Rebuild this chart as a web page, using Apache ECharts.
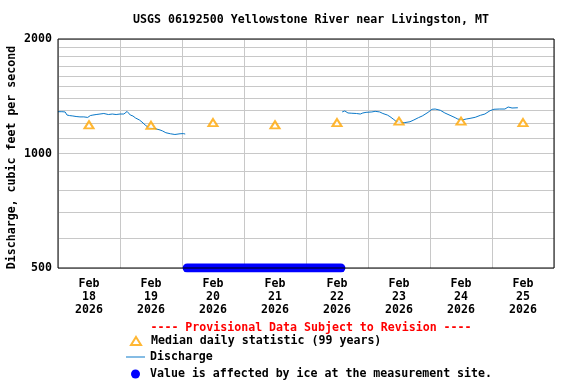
<!DOCTYPE html>
<html><head><meta charset="utf-8">
<script src="https://cdn.jsdelivr.net/npm/echarts@6/dist/echarts.min.js"></script>
<style>html,body{margin:0;padding:0;background:#fff}#c{width:576px;height:384px}</style>
</head><body><div id="c"></div>
<script>
// ---- data ----
const flowTimes1 = ['2026-02-18 00:00','2026-02-18 01:30','2026-02-18 02:45','2026-02-18 03:30','2026-02-18 04:30','2026-02-18 05:45','2026-02-18 07:00','2026-02-18 08:30','2026-02-18 10:00','2026-02-18 11:30','2026-02-18 12:30','2026-02-18 13:30','2026-02-18 14:45','2026-02-18 16:15','2026-02-18 17:45','2026-02-18 19:30','2026-02-18 21:00','2026-02-18 22:30','2026-02-19 00:00','2026-02-19 01:30','2026-02-19 02:45','2026-02-19 04:00','2026-02-19 05:00','2026-02-19 06:00','2026-02-19 07:30','2026-02-19 08:30','2026-02-19 09:45','2026-02-19 10:45','2026-02-19 12:00','2026-02-19 13:30','2026-02-19 15:30','2026-02-19 16:30','2026-02-19 17:45','2026-02-19 19:30','2026-02-19 21:15','2026-02-19 23:15','2026-02-20 00:30','2026-02-20 01:15'];
const flowValues1 = [1288,1288,1286,1262,1258,1255,1251,1248,1248,1244,1258,1262,1266,1270,1274,1266,1270,1266,1270,1270,1290,1262,1255,1240,1225,1210,1188,1174,1167,1163,1153,1146,1134,1127,1122,1127,1128,1125];
const flowTimes2 = ['2026-02-22 14:00','2026-02-22 15:00','2026-02-22 16:15','2026-02-22 17:45','2026-02-22 19:30','2026-02-22 21:00','2026-02-22 22:00','2026-02-22 23:15','2026-02-23 01:30','2026-02-23 02:45','2026-02-23 04:30','2026-02-23 05:45','2026-02-23 07:30','2026-02-23 08:30','2026-02-23 09:45','2026-02-23 10:45','2026-02-23 12:30','2026-02-23 14:00','2026-02-23 16:15','2026-02-23 17:45','2026-02-23 19:30','2026-02-23 21:00','2026-02-23 23:15','2026-02-24 00:45','2026-02-24 02:00','2026-02-24 04:00','2026-02-24 05:45','2026-02-24 07:45','2026-02-24 09:45','2026-02-24 10:45','2026-02-24 12:30','2026-02-24 14:00','2026-02-24 15:30','2026-02-24 17:30','2026-02-24 19:30','2026-02-24 21:15','2026-02-24 23:15','2026-02-25 00:45','2026-02-25 03:00','2026-02-25 05:00','2026-02-25 06:15','2026-02-25 07:45','2026-02-25 10:00'];
const flowValues2 = [1286,1294,1278,1276,1274,1270,1278,1283,1286,1291,1286,1274,1262,1250,1232,1217,1206,1205,1212,1225,1242,1255,1283,1307,1309,1299,1278,1260,1242,1232,1225,1232,1237,1245,1260,1270,1296,1307,1309,1309,1325,1317,1319];
const medianTimes = ['2026-02-18 12:00','2026-02-19 12:00','2026-02-20 12:00','2026-02-21 12:00','2026-02-22 12:00','2026-02-23 12:00','2026-02-24 12:00','2026-02-25 12:00'];
const medianValues = [1190,1186,1206,1190,1206,1216,1216,1206];
const iceTimes = ['2026-02-20 02:00','2026-02-22 13:30'];
const iceValues = [500,500];
const xLabelTimes = medianTimes;
const xTickLabels = ['Feb\n18\n2026','Feb\n19\n2026','Feb\n20\n2026','Feb\n21\n2026','Feb\n22\n2026','Feb\n23\n2026','Feb\n24\n2026','Feb\n25\n2026'];
const xGridTimes = ['2026-02-18 00:00','2026-02-19 00:00','2026-02-20 00:00','2026-02-21 00:00','2026-02-22 00:00','2026-02-23 00:00','2026-02-24 00:00','2026-02-25 00:00','2026-02-26 00:00'];
const yTickLabels = [500,1000,2000];
const yGridValues = [500,600,700,800,900,1000,1100,1200,1300,1400,1500,1600,1700,1800,1900,2000];

// ---- chart ----
function ts(s) { return Date.UTC(+s.slice(0,4), +s.slice(5,7)-1, +s.slice(8,10), +s.slice(11,13), +s.slice(14,16)); }
const FONT = 'DejaVu Sans Mono';
const FS = 11.6;
const flowData = flowTimes1.map((t,i)=>[ts(t),flowValues1[i]])
  .concat([[ts('2026-02-21 00:00'), null]])
  .concat(flowTimes2.map((t,i)=>[ts(t),flowValues2[i]]));
const labelTs = xLabelTimes.map(ts);

const chart = echarts.init(document.getElementById('c'), null, {renderer:'canvas'});
const txt = {fontFamily: FONT, fontWeight: 'bold', fontSize: FS, color: '#000'};
chart.setOption({
  animation: false,
  backgroundColor: '#fff',
  title: [
    {text: 'USGS 06192500 Yellowstone River near Livingston, MT', left: 306, top: 9, textAlign: 'center',
     textStyle: Object.assign({}, txt)},
    {text: '---- Provisional Data Subject to Revision ----', left: 306, top: 317, textAlign: 'center',
     textStyle: Object.assign({}, txt, {color: '#ff0000'})}
  ],
  grid: {left: 58, top: 39, right: 22, bottom: 116, show: true, borderColor: '#000', borderWidth: 1, z: 5,
         backgroundColor: 'transparent', outerBoundsMode: 'none', containLabel: false},
  legend: [
    {data: [{name: 'Median daily statistic (99 years)', icon: 'emptyTriangle'}], left: 130, top: 335, padding: 0,
     itemWidth: 10, itemHeight: 8, selectedMode: false, textStyle: Object.assign({}, txt, {padding: [0,0,0,5]})},
    {data: [{name: 'Discharge', icon: 'rect'}], left: 126, top: 351, padding: 0, itemWidth: 19, itemHeight: 1,
     selectedMode: false, textStyle: Object.assign({}, txt, {padding: [0,0,0,0]})},
    {data: [{name: 'Value is affected by ice at the measurement site.', icon: 'circle'}], left: 131, top: 368, padding: 0,
     itemWidth: 9, itemHeight: 9, selectedMode: false, textStyle: Object.assign({}, txt, {padding: [0,0,0,5]})}
  ],
  xAxis: {
    type: 'value',
    min: ts('2026-02-18 00:00'), max: ts('2026-02-26 00:00'),
    axisLine: {show: false},
    axisTick: {show: false, customValues: xGridTimes.map(ts)},
    splitLine: {show: true, lineStyle: {color: '#c8c8c8', width: 1}},
    axisLabel: {
      customValues: labelTs,
      margin: 9,
      lineHeight: 13,
      fontFamily: FONT, fontWeight: 'bold', fontSize: FS, color: '#000',
      formatter: function (v) { const i = labelTs.indexOf(v); return i >= 0 ? xTickLabels[i] : ''; }
    }
  },
  yAxis: {
    type: 'log', logBase: 2,
    min: 500, max: 2000,
    name: 'Discharge, cubic feet per second',
    nameLocation: 'middle', nameRotate: 90, nameGap: 40, nameMoveOverlap: false,
    nameTextStyle: Object.assign({}, txt, {padding: [0, 8, 0, 0]}),
    axisLine: {show: false},
    axisTick: {show: false, customValues: yGridValues},
    splitLine: {show: true, lineStyle: {color: '#c8c8c8', width: 1}},
    axisLabel: {
      customValues: yTickLabels,
      margin: 6,
      fontFamily: FONT, fontWeight: 'bold', fontSize: FS, color: '#000',
      formatter: function (v) { return String(Math.round(v)); }
    }
  },
  series: [
    {name: 'Discharge', type: 'line', data: flowData, symbol: 'none', connectNulls: false,
     color: '#0a78c8', lineStyle: {color: '#0a78c8', width: 1}, z: 2},
    {name: 'Value is affected by ice at the measurement site.', type: 'line',
     data: iceTimes.map((t,i)=>[ts(t), iceValues[i]]), symbol: 'none', color: '#0000ff',
     lineStyle: {color: '#0000ff', width: 9, cap: 'round'}, z: 3},
    {name: 'Median daily statistic (99 years)', type: 'scatter',
     data: medianTimes.map((t,i)=>[ts(t), medianValues[i]]), symbol: 'emptyTriangle', symbolSize: [9, 7],
     color: '#ffa500', itemStyle: {color: '#ffa500', borderColor: '#ffa500', borderWidth: 1}, z: 4}
  ]
});
</script>
</body></html>
